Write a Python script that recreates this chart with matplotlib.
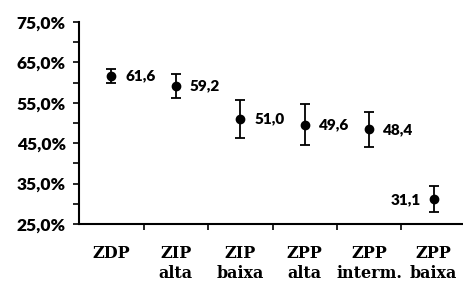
import matplotlib
matplotlib.use("Agg")
import matplotlib.pyplot as plt
from matplotlib.ticker import MultipleLocator

categories = ["ZDP", "ZIP\nalta", "ZIP\nbaixa", "ZPP\nalta", "ZPP\ninterm.", "ZPP\nbaixa"]
values = [61.6, 59.2, 51.0, 49.6, 48.4, 31.1]
errors = [1.8, 3.0, 4.7, 5.0, 4.3, 3.2]
value_labels = ["61,6", "59,2", "51,0", "49,6", "48,4", "31,1"]
ytick_values = [25, 35, 45, 55, 65, 75]
ytick_labels = ["25,0%", "35,0%", "45,0%", "55,0%", "65,0%", "75,0%"]

W, H = 463, 282
fig = plt.figure(figsize=(W / 100, H / 100), dpi=100)
ax = fig.add_axes([79 / W, (H - 224) / H, (466 - 79) / W, (224 - 22) / H])

x = list(range(len(values)))
ax.errorbar(x, values, yerr=errors, fmt="o", color="black", ms=6,
            ecolor="black", elinewidth=1.3, capsize=3.5, capthick=1.3)

for i, (v, lab) in enumerate(zip(values, value_labels)):
    if i == len(values) - 1:
        ax.text(i - 0.2, v, lab, ha="right", va="center", fontsize=11,
                fontweight="heavy", family="Lato")
    else:
        ax.text(i + 0.22, v, lab, ha="left", va="center", fontsize=11,
                fontweight="heavy", family="Lato")

ax.set_xlim(-0.5, 5.5)
ax.set_ylim(25, 75)
ax.set_yticks(ytick_values)
ax.set_yticklabels(ytick_labels, fontsize=12.5, fontweight="heavy", family="Lato")
ax.yaxis.set_minor_locator(MultipleLocator(5))
ax.tick_params(axis="y", which="both", direction="out", length=4.5, width=1.2, pad=5)

ax.set_xticks([i + 0.5 for i in range(len(values) - 1)])
ax.set_xticklabels([])
ax.tick_params(axis="x", direction="out", length=4, width=1.2)
for i, c in enumerate(categories):
    ax.text(i, -0.105, c, transform=ax.get_xaxis_transform(), ha="center", va="top",
            fontsize=11.5, fontweight="bold", family="DejaVu Serif", linespacing=1.2)

for s in ["top", "right"]:
    ax.spines[s].set_visible(False)
for s in ["left", "bottom"]:
    ax.spines[s].set_linewidth(1.5)

fig.savefig("out.png", dpi=100)
